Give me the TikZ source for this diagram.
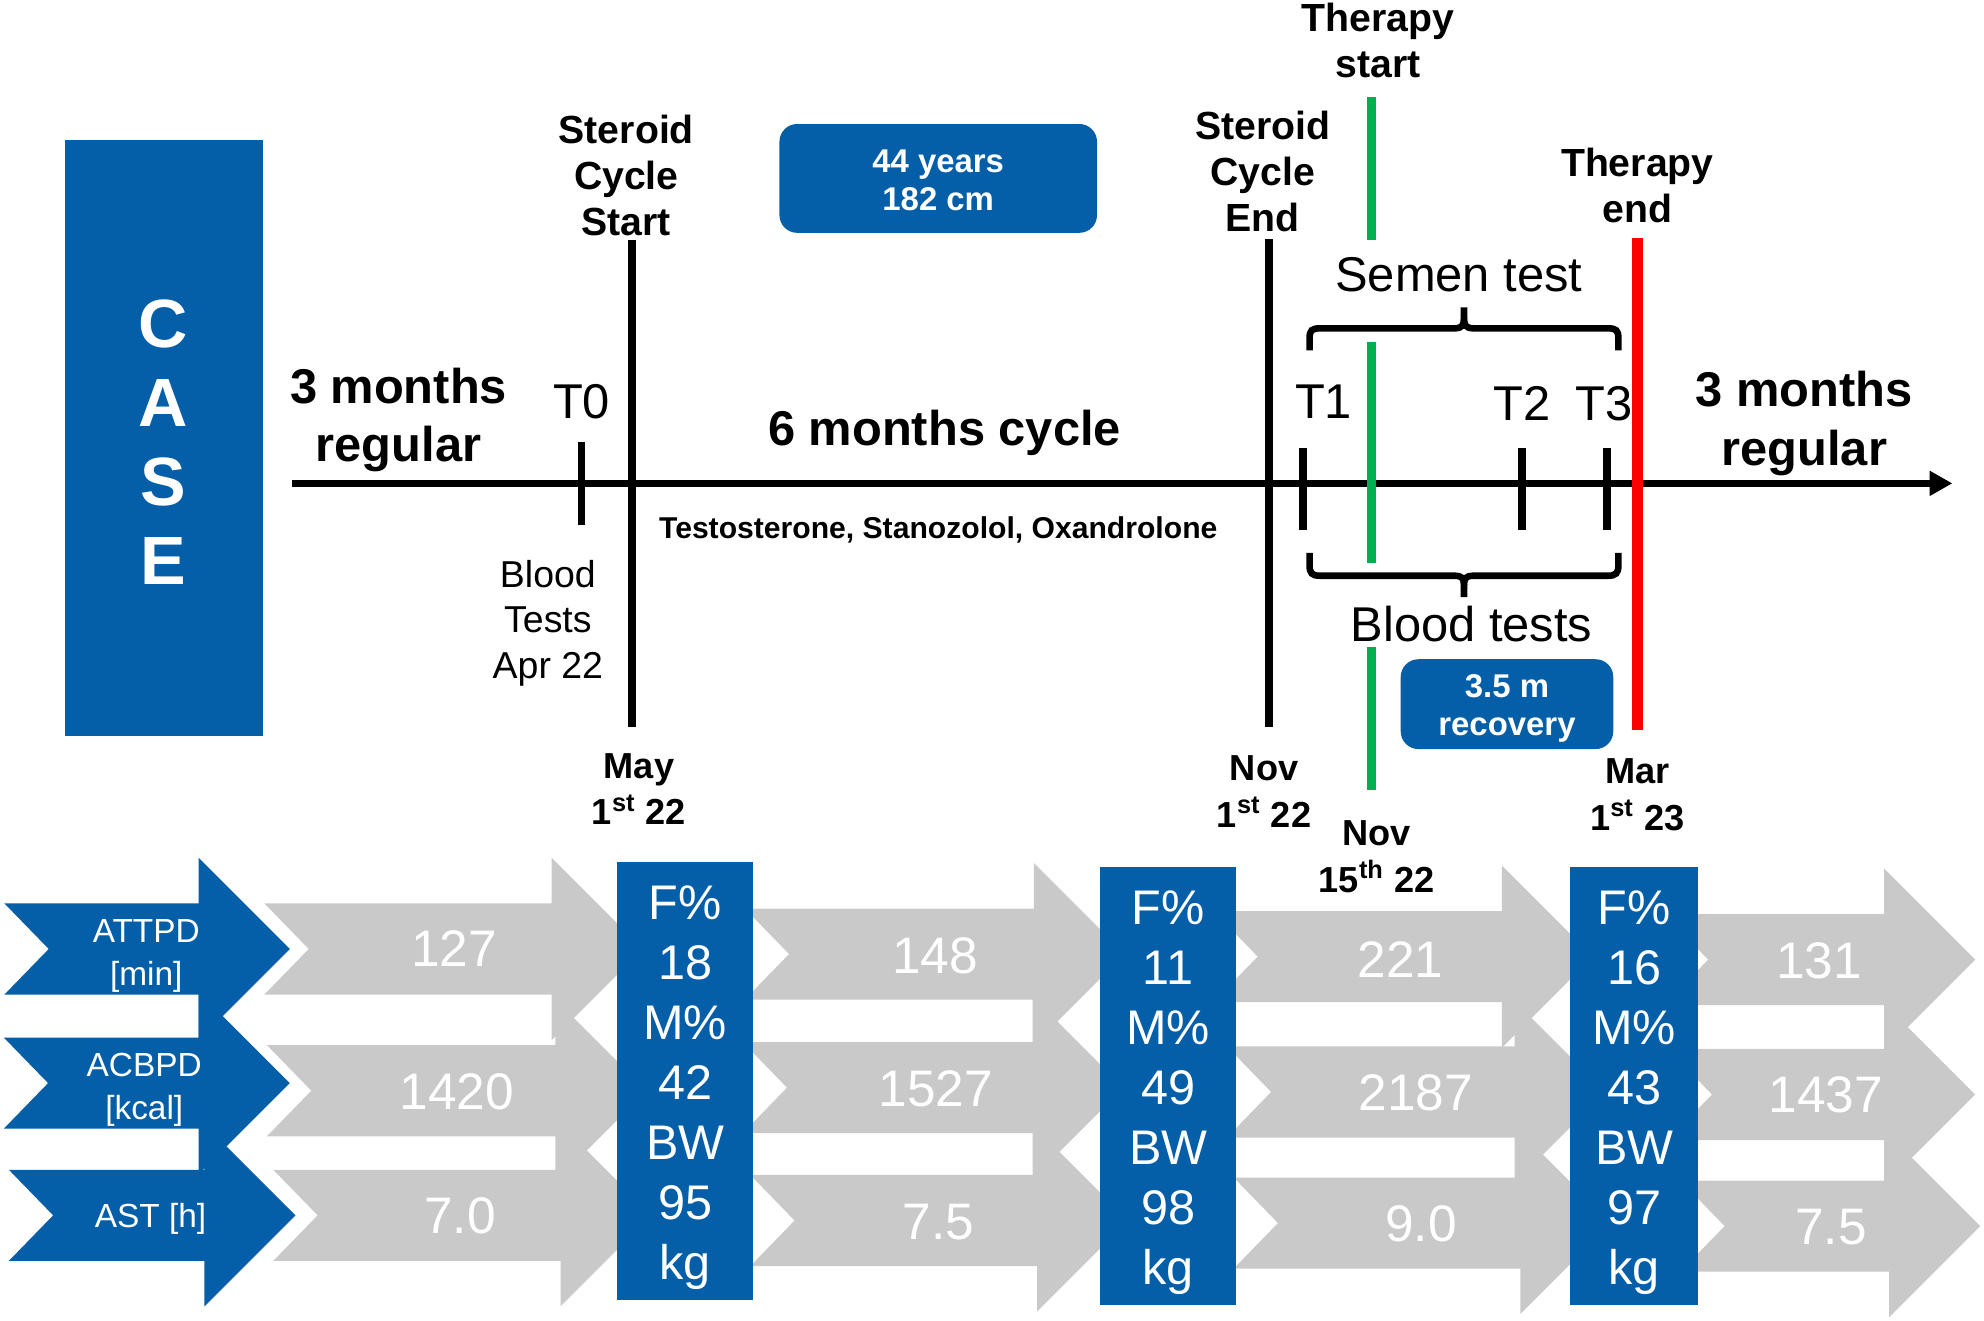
\documentclass[tikz,border=0pt]{standalone}
\usepackage{fontspec}
\setmainfont{Liberation Sans}
\usetikzlibrary{arrows.meta}
\definecolor{caseblue}{RGB}{5,94,168}
\definecolor{flowgray}{RGB}{201,201,201}
\definecolor{thgreen}{RGB}{0,176,80}
\definecolor{thred}{RGB}{255,0,0}
\tikzset{
	every node/.style = {
		inner sep=0pt,
		outer sep=0pt,
		align=center,
		anchor=base
	},
	bigbold/.style = {font=\fontsize{19.3}{23}\selectfont\bfseries},
	bigthin/.style = {font=\fontsize{19.3}{23}\selectfont},
	eventlbl/.style = {font=\fontsize{15.5}{18.2}\selectfont\bfseries},
	datelbl/.style = {font=\fontsize{14.3}{18.3}\selectfont\bfseries},
	infobox/.style = {fill=caseblue, rounded corners=7pt},
	infotxt/.style = {font=\fontsize{13}{15}\selectfont\bfseries, text=white},
	rowlbl/.style = {font=\fontsize{13.2}{17}\selectfont, text=white},
	flownum/.style = {font=\fontsize{20.3}{24}\selectfont, text=white, anchor=center},
	datatxt/.style = {font=\fontsize{19.2}{23.7}\selectfont, text=white},
	axis/.style = {line width=3pt, -{Triangle[length=9pt, width=9.4pt]}},
	tick/.style = {line width=3pt},
	bracket/.style = {line width=2.6pt},
	therapy/.style = {line width=3.6pt, draw=thgreen},
	ending/.style = {line width=4.2pt, draw=thred}
}
% one wide arrow of the bottom rows: fill, tail x, head base x, centre y
\newcommand{\flowarrow}[4]{%
	\fill[#1] (#2,#4-36) -- (#3,#4-36) -- (#3,#4-72) -- (#3+72,#4) -- (#3,#4+72)
		-- (#3,#4+36) -- (#2,#4+36) -- (#2+35,#4) -- cycle;}
\begin{document}
\begin{tikzpicture}[x=0.5pt, y=-0.5pt]
	\useasboundingbox (0,0) rectangle (1568,1044);

	% case column
	\fill[caseblue] (51,111) rectangle (207.5,582);
	\node[font=\fontsize{27}{31.25}\selectfont\bfseries, text=white] (caseTxt) at (129,462) {C\\A\\S\\E};

	% time line
	\coordinate (axisStart) at (231,382);
	\coordinate (axisEnd) at (1543,382);
	\draw[axis] (axisStart) -- (axisEnd);
	\foreach \x/\ya/\yb in {459.7/349/415, 1030/354/419, 1203/354/419, 1270/354/419}
		\draw[tick] (\x,\ya) -- (\x,\yb);

	\node[bigbold] (leftReg) at (315,365) {3 months\\regular};
	\node[bigbold] (rightReg) at (1426,367.6) {3 months\\regular};
	\node[bigbold] (cycleLbl) at (746.5,352) {6 months cycle};
	\node[font=\fontsize{11.9}{14}\selectfont\bfseries] (drugLbl) at (741.5,425.5) {Testosterone, Stanozolol, Oxandrolone};

	\node[bigthin] (tZero) at (459.6,330.6) {T0};
	\node[bigthin] (tOne) at (1046,331) {T1};
	\node[bigthin] (tTwo) at (1203,332) {T2};
	\node[bigthin] (tThree) at (1268,332) {T3};

	% steroid cycle
	\node[eventlbl] (startLbl) at (495,186) {Steroid\\Cycle\\Start};
	\node[eventlbl] (endLbl) at (998,183) {Steroid\\Cycle\\End};
	\coordinate (startTop) at (499.4,190);
	\coordinate (startBot) at (499.4,574.5);
	\coordinate (endTop) at (1003,189);
	\coordinate (endBot) at (1003,574.5);
	\draw[tick] (startTop) -- (startBot);
	\draw[tick] (endTop) -- (endBot);

	\node[font=\fontsize{14.8}{18}\selectfont] (bloodApr) at (433,536) {Blood\\Tests\\Apr 22};
	\node[datelbl] (mayLbl) at (505,652) {May\\1\textsuperscript{st} 22};
	\node[datelbl] (novLbl) at (999,653.6) {Nov\\1\textsuperscript{st} 22};
	\node[datelbl] (novMidLbl) at (1088,705) {Nov\\15\textsuperscript{th} 22};
	\node[datelbl] (marLbl) at (1294,656) {Mar\\1\textsuperscript{st} 23};

	% patient
	\fill[infobox] (616,98) rectangle (867,184);
	\node[infotxt] (ageTxt) at (741.5,166) {44 years\\182 cm};

	% therapy
	\node[eventlbl] (thStartLbl) at (1089,61) {Therapy\\start};
	\node[eventlbl] (thEndLbl) at (1294,175.5) {Therapy\\end};
	\draw[therapy] (1084,76.4) -- (1084,190);
	\draw[therapy] (1084,270) -- (1084,445);
	\draw[therapy] (1084,511) -- (1084,624);
	\coordinate (endTherTop) at (1294,188.4);
	\coordinate (endTherBot) at (1294,577);
	\draw[ending] (endTherTop) -- (endTherBot);

	% tests
	\node[bigthin] (semenLbl) at (1153,230.6) {Semen test};
	\draw[bracket] (1035,277) -- (1035,267) .. controls (1035,261) and (1037,259.5) .. (1043,259.5)
		-- (1150,259.5) .. controls (1155,259.5) and (1157,257) .. (1157,252) -- (1157,243);
	\draw[bracket] (1279,277) -- (1279,267) .. controls (1279,261) and (1277,259.5) .. (1271,259.5)
		-- (1164,259.5) .. controls (1159,259.5) and (1157,257) .. (1157,252);
	\draw[bracket] (1035,437) -- (1035,447) .. controls (1035,453) and (1037,455) .. (1043,455)
		-- (1150,455) .. controls (1155,455) and (1157,457) .. (1157,462) -- (1157,472);
	\draw[bracket] (1279,437) -- (1279,447) .. controls (1279,453) and (1277,455) .. (1271,455)
		-- (1164,455) .. controls (1159,455) and (1157,457) .. (1157,462);
	\node[bigthin] (bloodLbl) at (1163,507) {Blood tests};

	\fill[infobox] (1107,521) rectangle (1275,592);
	\node[infotxt] (recTxt) at (1191,581) {3.5 m\\recovery};

	% bottom rows
	\flowarrow{flowgray}{209}{436}{750}
	\flowarrow{flowgray}{211}{439}{862}
	\flowarrow{flowgray}{216}{443}{960.5}
	\flowarrow{flowgray}{588.6}{817}{754}
	\flowarrow{flowgray}{587}{816}{859.6}
	\flowarrow{flowgray}{593}{819.6}{964.6}
	\flowarrow{flowgray}{959}{1187}{756}
	\flowarrow{flowgray}{969.6}{1197}{863}
	\flowarrow{flowgray}{975}{1201.5}{966.6}
	\flowarrow{flowgray}{1315}{1489}{758.4}
	\flowarrow{flowgray}{1318}{1489}{865}
	\flowarrow{flowgray}{1328}{1493}{969}

	\flowarrow{caseblue}{3.5}{157}{750}
	\flowarrow{caseblue}{3}{157}{856}
	\flowarrow{caseblue}{7}{161.6}{960.5}
	\node[rowlbl] (attpdLbl) at (115.6,778.5) {ATTPD\\{[min]}};
	\node[rowlbl] (acbpdLbl) at (114,885) {ACBPD\\{[kcal]}};
	\node[rowlbl] (astLbl) at (119,970) {AST [h]};

	\node[flownum] (attpdA) at (359,749.6) {127};
	\node[flownum] (acbpdA) at (361,862.6) {1420};
	\node[flownum] (astA) at (363.5,961) {7.0};
	\node[flownum] (attpdB) at (739,755) {148};
	\node[flownum] (acbpdB) at (739.5,860.5) {1527};
	\node[flownum] (astB) at (741.5,965.5) {7.5};
	\node[flownum] (attpdC) at (1107,758) {221};
	\node[flownum] (acbpdC) at (1119,863.5) {2187};
	\node[flownum] (astC) at (1123,967.5) {9.0};
	\node[flownum] (attpdD) at (1437.7,759) {131};
	\node[flownum] (acbpdD) at (1443,865) {1437};
	\node[flownum] (astD) at (1447,970) {7.5};

	% body composition
	\fill[caseblue] (488,681) rectangle (595,1027.5);
	\fill[caseblue] (869.7,685) rectangle (976.6,1031);
	\fill[caseblue] (1241,685) rectangle (1342,1031);
	\node[datatxt] (bodyA) at (541.5,1011.4) {F\%\\18\\M\%\\42\\BW\\95\\kg};
	\node[datatxt] (bodyB) at (923.2,1015.4) {F\%\\11\\M\%\\49\\BW\\98\\kg};
	\node[datatxt] (bodyC) at (1291.5,1015.4) {F\%\\16\\M\%\\43\\BW\\97\\kg};
\end{tikzpicture}
\end{document}
